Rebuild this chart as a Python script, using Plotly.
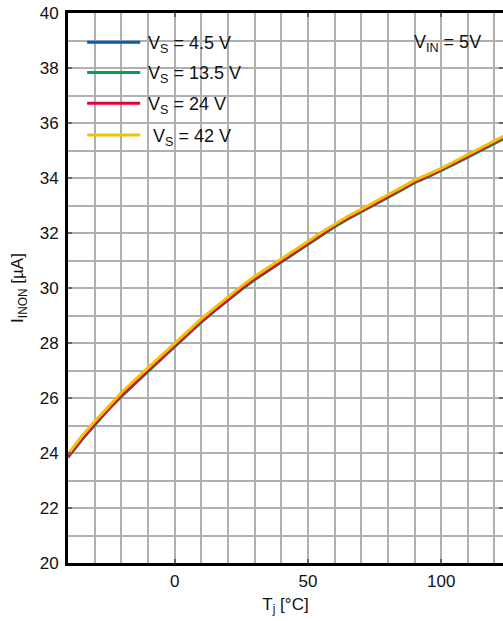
import plotly.graph_objects as go

# junction temperature [°C]
tj = [-40, -35, -30, -25, -20, -15, -10, -5, 0, 5, 10, 15, 20, 25, 30, 35, 40,
      45, 50, 55, 60, 65, 70, 75, 80, 85, 90, 95, 100, 105, 110, 115, 120, 125]

# I_INON [uA] per supply voltage
i_vs45 = [23.86, 24.47, 25.03, 25.58, 26.07, 26.54, 26.98, 27.43, 27.87, 28.34,
          28.77, 29.18, 29.57, 29.95, 30.31, 30.63, 30.97, 31.28, 31.59, 31.92,
          32.24, 32.52, 32.77, 33.05, 33.30, 33.57, 33.84, 34.05, 34.27, 34.52,
          34.77, 35.03, 35.29, 35.52]
i_vs135 = [23.84, 24.46, 25.02, 25.57, 26.06, 26.53, 26.97, 27.42, 27.86, 28.33,
           28.76, 29.17, 29.56, 29.94, 30.30, 30.62, 30.96, 31.27, 31.58, 31.91,
           32.23, 32.51, 32.76, 33.04, 33.29, 33.56, 33.83, 34.04, 34.26, 34.51,
           34.76, 35.02, 35.28, 35.51]
i_vs24 = [23.88, 24.50, 25.06, 25.60, 26.10, 26.56, 27.00, 27.46, 27.90, 28.36,
          28.80, 29.20, 29.60, 29.98, 30.34, 30.66, 31.00, 31.31, 31.62, 31.95,
          32.27, 32.55, 32.80, 33.08, 33.33, 33.60, 33.87, 34.08, 34.30, 34.55,
          34.80, 35.05, 35.32, 35.55]
i_vs42 = [23.96, 24.59, 25.15, 25.69, 26.19, 26.65, 27.09, 27.55, 27.98, 28.44,
          28.88, 29.28, 29.68, 30.06, 30.42, 30.73, 31.07, 31.38, 31.69, 32.02,
          32.33, 32.61, 32.86, 33.14, 33.39, 33.65, 33.92, 34.13, 34.35, 34.60,
          34.85, 35.10, 35.37, 35.60]

series_names = ["V<sub>S</sub> = 4.5 V", "V<sub>S</sub> = 13.5 V",
                "V<sub>S</sub> = 24 V", " V<sub>S</sub> = 42 V"]
series_colors = ["#0a5fab", "#00a056", "#e3003b", "#f2c200"]
series_values = [i_vs45, i_vs135, i_vs24, i_vs42]

y_ticks = [20, 22, 24, 26, 28, 30, 32, 34, 36, 38, 40]
x_ticks = [0, 50, 100]

FONT = "Liberation Sans, Arial, Helvetica, sans-serif"
GRID = "#b0b0b0"

fig = go.Figure()
for name, color, vals in zip(series_names, series_colors, series_values):
    fig.add_trace(go.Scatter(x=tj, y=vals, mode="lines", name=name,
                             line=dict(color=color, width=3), showlegend=False))

# white legend panel and V_IN label box (above grid, below traces)
fig.add_shape(type="rect", xref="paper", yref="paper", x0=0.018, x1=0.414,
              y0=0.747, y1=0.982, fillcolor="white", line_width=0, layer="between")
fig.add_shape(type="rect", xref="paper", yref="paper", x0=0.787, x1=0.960,
              y0=0.918, y1=0.975, fillcolor="white", line_width=0, layer="between")

# hand-drawn legend (long line samples)
leg_y = [0.947, 0.892, 0.836, 0.778]
for yy, name, color in zip(leg_y, series_names, series_colors):
    fig.add_shape(type="line", xref="paper", yref="paper", x0=0.044, x1=0.166,
                  y0=yy, y1=yy, line=dict(color=color, width=3))
    fig.add_annotation(xref="paper", yref="paper", x=0.18, y=yy - 0.004,
                       xanchor="left", yanchor="middle", text=name, showarrow=False,
                       font=dict(family=FONT, size=18, color="#111"))

fig.add_annotation(xref="paper", yref="paper", x=0.873, y=0.945,
                   xanchor="center", yanchor="middle",
                   text="V<sub>IN</sub> = 5V", showarrow=False,
                   font=dict(family=FONT, size=18, color="#111"))

fig.update_xaxes(
    range=[-40, 123.2], tickvals=x_ticks, ticks="inside", ticklen=4,
    tickcolor="#666", tickwidth=2, showline=True, linecolor="black", linewidth=3,
    mirror="ticks", showgrid=True, gridcolor=GRID, gridwidth=1.5,
    minor=dict(dtick=10, tick0=0, showgrid=True, gridcolor=GRID, gridwidth=1.5),
    zeroline=False, automargin=False, ticklabelstandoff=1,
    tickfont=dict(family=FONT, size=17, color="#111"),
    title=dict(text="T<sub>j</sub> [°C]", font=dict(family=FONT, size=17, color="#111"),
               standoff=8),
)
fig.update_yaxes(
    range=[20, 40], tickvals=y_ticks, ticks="inside", ticklen=4,
    tickcolor="#666", tickwidth=2, showline=True, linecolor="black", linewidth=3,
    mirror="ticks", showgrid=True, gridcolor=GRID, gridwidth=1.5,
    minor=dict(dtick=1, tick0=0, showgrid=True, gridcolor=GRID, gridwidth=1.5),
    zeroline=False, automargin=False, ticklabelstandoff=3,
    tickfont=dict(family=FONT, size=17, color="#111"),
    title=dict(text="I<sub>INON</sub> [µA]", font=dict(family=FONT, size=17, color="#111"),
               standoff=12),
)

fig.update_layout(
    width=503, height=621,
    margin=dict(l=68, r=0, t=13, b=58),
    plot_bgcolor="white", paper_bgcolor="white",
    font=dict(family=FONT, size=17, color="#111"),
)

# drop the default 8px page margin so the figure sits at the window corner
fig.write_html("out.html", config={"displayModeBar": False},
               post_script="document.body.style.margin='0px';")
